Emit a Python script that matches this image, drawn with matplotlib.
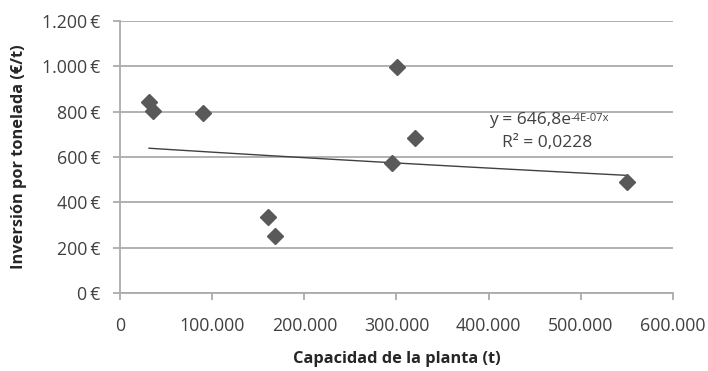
import matplotlib.pyplot as plt
import numpy as np
from matplotlib.ticker import FuncFormatter

plt.rcParams['font.family'] = ['Open Sans', 'DejaVu Sans']

# Capacidad (t) e inversión por tonelada (€/t)
capacidad = [31500, 35800, 90000, 160500, 168000, 295000, 300500, 320000, 550000]
inversion = [843, 803, 794, 335, 251, 573, 997, 684, 490]

# Línea de tendencia exponencial mostrada en el gráfico
coef_a = 646.8
coef_b = -4e-07

x_ticks = [0, 100000, 200000, 300000, 400000, 500000, 600000]
y_ticks = [0, 200, 400, 600, 800, 1000, 1200]


def miles(v):
    return f"{int(v):,}".replace(",", ".")


fig = plt.figure(figsize=(7.08, 3.71), dpi=100)
ax = fig.add_axes([0.1695, 0.2102, 0.781, 0.7332])

grid_col = '#ababab'
text_col = '#404040'

ax.set_xlim(0, 600000)
ax.set_ylim(0, 1200)
ax.set_xticks(x_ticks)
ax.set_yticks(y_ticks)
ax.xaxis.set_major_formatter(FuncFormatter(lambda v, p: miles(v)))
ax.yaxis.set_major_formatter(FuncFormatter(lambda v, p: miles(v) + "\u2009€"))
ax.grid(axis='y', color=grid_col, linewidth=1.3)
ax.set_axisbelow(True)

for side in ['top', 'right']:
    ax.spines[side].set_visible(False)
for side in ['left', 'bottom']:
    ax.spines[side].set_color(grid_col)
    ax.spines[side].set_linewidth(1.3)

ax.tick_params(axis='both', colors=grid_col, length=5, width=1.3,
               labelsize=12.8, labelcolor=text_col)
ax.tick_params(axis='x', pad=12)
ax.tick_params(axis='y', pad=9)

ax.plot(capacidad, inversion, 'D', color='#595959', markersize=8, zorder=3)

xt = np.linspace(min(capacidad), max(capacidad), 100)
ax.plot(xt, coef_a * np.exp(coef_b * xt), color='#404040', linewidth=1.0, zorder=2)

base = ax.text(489000, 763, "y = 646,8e", ha='right', va='center',
               fontsize=12.5, color=text_col)
ax.annotate("-4E-07x", xy=(1.0, 0.93), xycoords=base, ha='left', va='top',
            fontsize=8, color=text_col)
ax.text(464000, 662, "R² = 0,0228", ha='center', va='center',
        fontsize=12.5, color=text_col)

ax.set_xlabel("Capacidad de la planta (t)", fontsize=11.8, fontweight='bold',
              color='#262626', labelpad=12)
ax.set_ylabel("Inversión por tonelada (€/t)", fontsize=11.8, fontweight='bold',
              color='#262626', labelpad=11)

fig.savefig("out.png", dpi=100)
